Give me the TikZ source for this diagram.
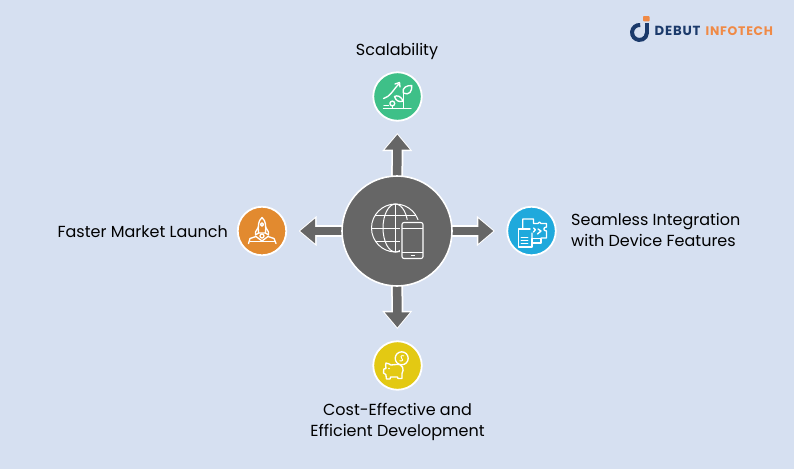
\documentclass[tikz,border=0pt]{standalone}
\usepackage{fontspec}
\setmainfont{Poppins}
\newfontfamily\logofont[LetterSpace=6]{Poppins}
\usetikzlibrary{arrows.meta}
\definecolor{bgc}{RGB}{214,224,241}
\definecolor{hubc}{RGB}{102,102,102}
\definecolor{grn}{RGB}{62,192,136}
\definecolor{org}{RGB}{226,138,47}
\definecolor{blu}{RGB}{31,169,220}
\definecolor{yel}{RGB}{227,201,19}
\definecolor{navy}{RGB}{27,58,107}
\definecolor{lorg}{RGB}{240,138,70}
\tikzset{
  hubnode/.style={circle,fill=hubc,draw=white,line width=1.6pt,minimum size=110pt,inner sep=0pt},
  iconnode/.style={circle,draw=white,line width=1.8pt,minimum size=48.5pt,inner sep=0pt},
  halo/.style={draw=white,line width=12pt,shorten >=11.5pt,-{Triangle[length=18pt,width=29pt]}},
  shaft/.style={draw=hubc,line width=8.5pt,shorten >=13pt,-{Triangle[length=15pt,width=24pt]}},
  lbl/.style={font=\fontsize{16}{21}\selectfont,text=black,inner sep=0pt,align=center},
  ico/.style={draw=white,line width=1.35pt,line join=round,line cap=round},
  logotxt/.style={inner sep=0pt,anchor=base west}
}
\begin{document}
\begin{tikzpicture}[x=1pt,y=-1pt]
\useasboundingbox (0,0) rectangle (794,469);
\fill[bgc] (0,0) rectangle (794,469);
% nodes
\node[iconnode,fill=grn] (top) at (397.5,96.5) {};
\node[iconnode,fill=yel] (bottom) at (397.5,365.5) {};
\node[iconnode,fill=org] (left) at (262,231) {};
\node[iconnode,fill=blu] (right) at (531.5,231) {};
\coordinate (hubc) at (397,231);
% connectors
\foreach \t in {top,bottom,left,right}{
  \draw[halo] (hubc) -- (\t);
}
\foreach \t in {top,bottom,left,right}{
  \draw[shaft] (hubc) -- (\t);
}
\node[hubnode] (hub) at (hubc) {};
% labels
\node[lbl] (ltop) at (397,51.5) {Scalability};
\node[lbl,anchor=east] (lleft) at (228,231.5) {Faster Market Launch};
\node[lbl,anchor=west,align=left] (lright) at (571,229.5) {Seamless Integration\\with Device Features};
\node[lbl] (lbottom) at (397.5,421.7) {Cost-Effective and\\Efficient Development};
% globe
\draw[white,line width=1pt] (395.5,228) circle (24);
\draw[white,line width=1pt] (395.5,228) ellipse (12.5 and 24);
\draw[white,line width=1pt] (395.5,204) -- (395.5,252);
\draw[white,line width=1pt] (375,215) -- (416,215);
\draw[white,line width=1pt] (371.5,228) -- (419.5,228);
\draw[white,line width=1pt] (375.5,241) -- (415.5,241);
% phone
\fill[hubc] (399.5,220) rectangle (430,262);
\fill[hubc] (401,252) rectangle (425,262);
\draw[white,line width=1.1pt,rounded corners=2pt] (402,222.5) rectangle (423,258.5);
\draw[white,line width=.9pt] (402,228) -- (423,228);
\draw[white,line width=.9pt] (402,252) -- (423,252);
\draw[white,line width=1.2pt] (410.5,255.2) -- (414.5,255.2);
% scalability icon
\draw[ico] (383.5,108.5) -- (411,108.5);
\draw[ico] (403.2,108.5) -- (403.2,93);
\draw[ico] (403.2,93) .. controls (402,87) and (407,85.5) .. (411.7,85.5) .. controls (412.5,91) and (409,96) .. (403.2,93);
\draw[ico] (403.2,101) .. controls (401,96) and (397,95) .. (394.5,96.5) .. controls (396,101) and (399,102.5) .. (403.2,101);
\draw[ico] (383.5,98.5) .. controls (390,97) and (393,90) .. (398.8,84);
\draw[ico] (395,84) -- (399.5,82.5) -- (400,87);
\draw[ico] (392.5,108) -- (392.5,106);
\draw[ico] (392.3,103.5) circle (2.4);
\draw[ico] (384,105.5) -- (388.5,105.5);
% rocket icon
\draw[ico] (262,217.5) .. controls (258,221) and (258,226) .. (258.5,233) -- (265.5,233) .. controls (266,226) and (266,221) .. (262,217.5) -- cycle;
\draw[ico] (262,224.5) circle (1.6);
\draw[ico] (258.5,227) -- (255.5,232) -- (255.5,235) -- (258.5,233);
\draw[ico] (265.5,227) -- (268.5,232) -- (268.5,235) -- (265.5,233);
\draw[ico] (262,236) circle (2);
\draw[ico] (248.5,243.5) -- (250,238.5) -- (256,236.5) -- (262,241) -- (268,236.5) -- (274,238.5) -- (276,243.5);
\draw[ico] (250,241.5) -- (274.5,241.5);
% puzzle icon
\draw[ico] (522.7,228) -- (522.7,219) -- (533.5,219) -- (533.5,223.5) -- (538,223.5) .. controls (538,221.5) and (541,221.5) .. (541,223.5) -- (546.5,223.5) -- (546.5,227) .. controls (543,227) and (543,231) .. (546.5,231) -- (546.5,238) -- (541,238) (532,238) -- (532,233);
\draw[ico] (518.5,229) -- (530,229) (518.5,229) -- (518.5,247) -- (532,247) -- (532,238.5) -- (541,238.5) -- (541,243) -- (532,243);
\draw[ico] (533.5,228) .. controls (536,228) and (536,231) .. (533.5,232);
\draw[ico] (538,229) -- (541,231) -- (537.5,234);
\draw[ico,line width=.8pt] (521,237) -- (528,237) (521,240) -- (528,240) (521,243) -- (528,243);
% piggy icon
\draw[ico] (401.7,358.3) circle (6.5);
\draw[ico,line width=.9pt] (403.8,355.8) .. controls (401,354.8) and (399.8,357.5) .. (401.7,358.3) .. controls (403.8,359) and (403,361.5) .. (399.8,360.8);
\draw[ico,fill=yel] (396,364.5) .. controls (403,363.5) and (404.5,369.5) .. (402,373.5) -- (402,378.5) -- (398,378.5) -- (397.5,377) -- (390.5,377) -- (390,379) -- (386.5,379) -- (385.8,374.5) -- (383.5,373) -- (383.8,369) -- (386,368.5) .. controls (386,365.5) and (385,364) .. (386,363) .. controls (388,363) and (389.5,364.5) .. (391,365) .. controls (393,364.5) and (394,364.5) .. (396,364.5);
\fill[white] (389,368.5) circle (.9);
% logo
\draw[navy,line width=4pt] (640.2,25) arc (-85:-360:7.5);
\draw[navy,line width=4pt] (647,32.5) -- (647,23);
\fill[lorg,rounded corners=.8pt] (643,16) rectangle (649.5,21.3);
\node[logotxt,text=navy,font={\logofont\fontsize{13.2}{14}\selectfont\bfseries}] (logoa) at (654.5,35.3) {DEBUT};
\node[logotxt,text=lorg,font={\logofont\fontsize{12.4}{14}\selectfont\bfseries}] (logob) at (705.5,35.3) {INFOTECH};
\end{tikzpicture}
\end{document}
